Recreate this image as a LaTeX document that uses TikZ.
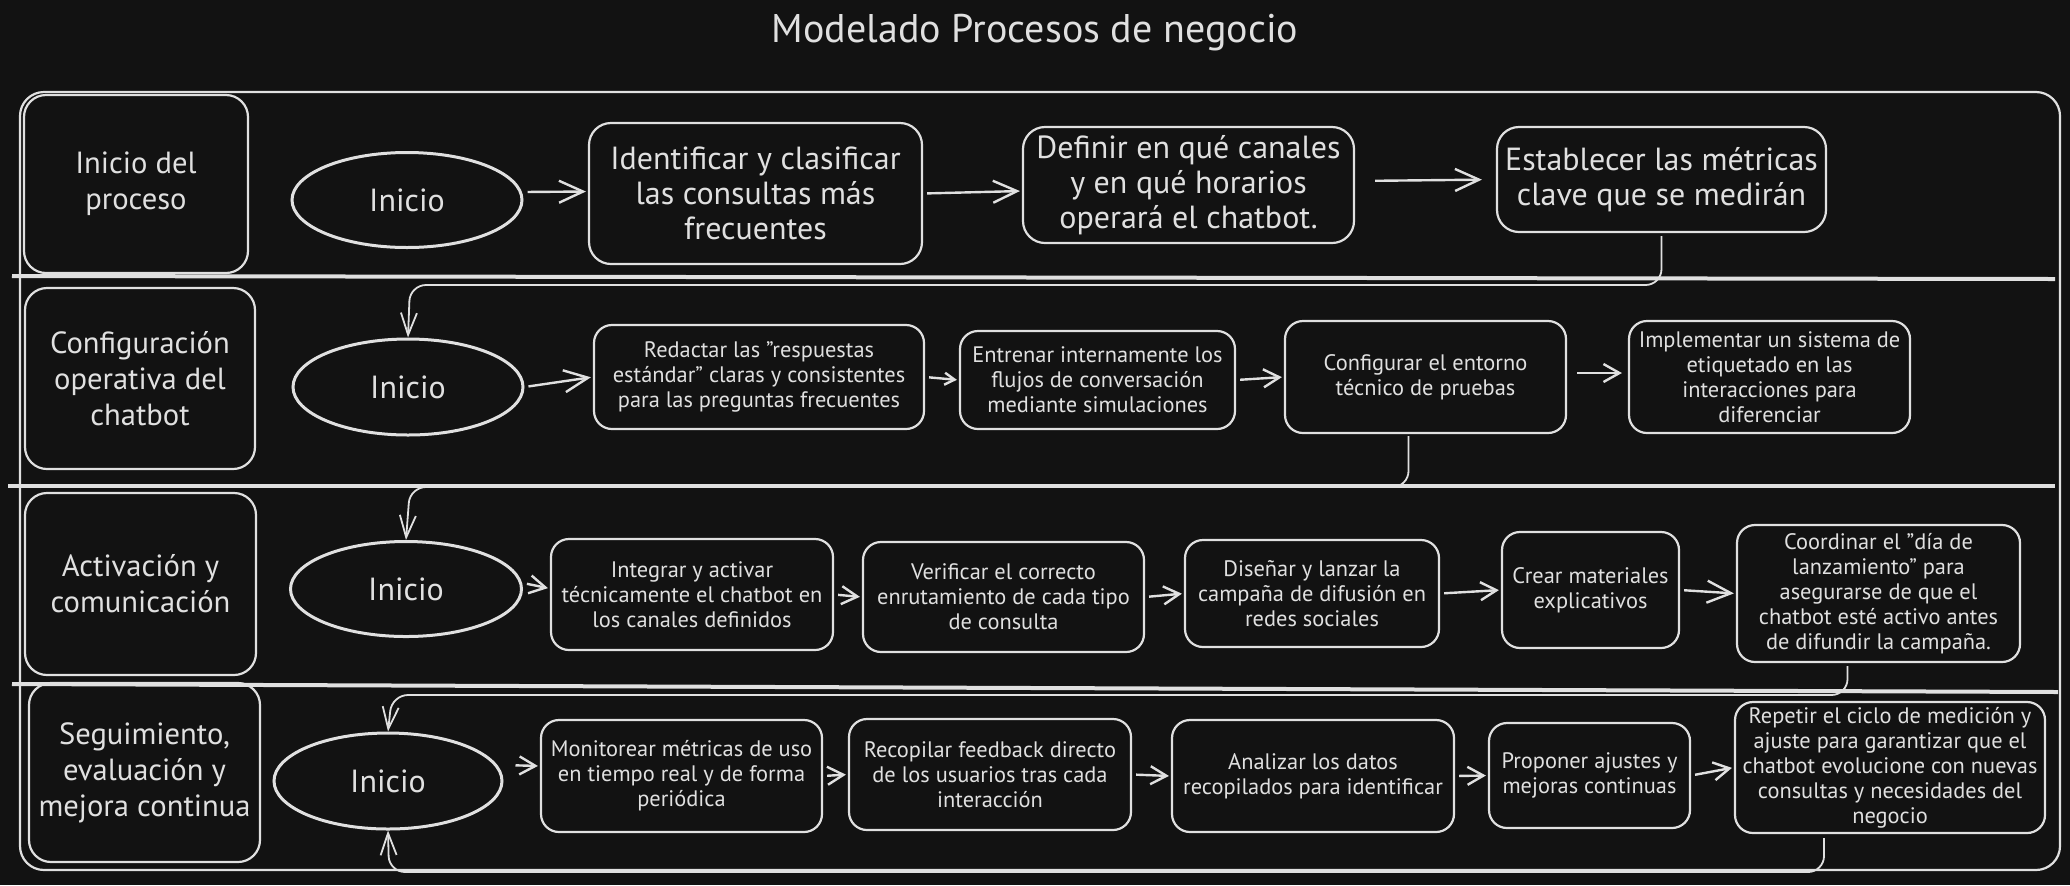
\documentclass[tikz,border=0pt]{standalone}
\usepackage{fontspec}
\setmainfont{PT Sans}
\usetikzlibrary{arrows.meta,shapes.geometric}
\definecolor{bg}{HTML}{121212}
\definecolor{ink}{HTML}{E0E0E0}
\newcommand\mkbox[7]{\node[#1, minimum width={(#5-#3)*0.5pt}, minimum height={(#6-#4)*0.5pt}] (#2) at ({(#3+#5)/2},{(#4+#6)/2}) {#7};}
\begin{document}
\begin{tikzpicture}[x=0.5pt,y=-0.5pt,
  lanebox/.style={draw=ink, text=ink, line width=1.1pt, rounded corners=11pt, align=center, inner sep=0pt, font=\fontsize{15.3}{18}\selectfont},
  stepbox/.style={draw=ink, text=ink, line width=1.1pt, rounded corners=9pt, align=center, inner sep=0pt, font=\fontsize{11.2}{12.5}\selectfont},
  bigbox/.style={stepbox, rounded corners=11pt, font=\fontsize{16}{17.5}\selectfont},
  start/.style={draw=ink, text=ink, ellipse, line width=1.5pt, inner sep=0pt, font=\fontsize{16}{17}\selectfont},
  arr/.style={draw=ink, line width=1.2pt, -{Straight Barb[length=8pt,width=9pt]}, shorten <=2pt, shorten >=1pt},
  bigarr/.style={arr, -{Straight Barb[length=12pt,width=11pt]}},
  conn/.style={draw=ink, line width=0.9pt, rounded corners=8pt, -{Straight Barb[length=11pt,width=8pt]}},
  divider/.style={draw=ink, line width=2pt},
  frame/.style={draw=ink, line width=1.1pt, rounded corners=12pt},
]
\path[use as bounding box, fill=bg] (0,0) rectangle (2070,885);
\node[text=ink, font=\fontsize{20}{24}\selectfont] (title) at (1035,33) {Modelado Procesos de negocio};
\draw[frame] (20,92) rectangle (2060,870);
\draw[divider] (12,276) -- (2055,279);
\draw[divider] (8,486) -- (2055,486);
\draw[divider] (12,684) -- (2058,692);
% lane labels
\mkbox{lanebox}{l1}{24}{95}{248}{273}{Inicio del\\proceso}
\mkbox{lanebox}{l2}{25}{288}{255}{469}{Configuración\\operativa del\\chatbot}
\mkbox{lanebox}{l3}{25}{493}{256}{675}{Activación y\\comunicación}
\mkbox{lanebox}{l4}{29}{683}{260}{862}{Seguimiento,\\evaluación y\\mejora continua}
% lane 1
\node[start, minimum width=115pt, minimum height=47.5pt] (i1) at (407,200) {Inicio};
\mkbox{bigbox}{b11}{589}{123}{922}{264}{Identificar y clasificar\\las consultas más\\frecuentes}
\mkbox{bigbox}{b12}{1023}{127}{1354}{243}{Definir en qué canales\\y en qué horarios\\operará el chatbot.}
\mkbox{bigbox}{b13}{1497}{127}{1826}{232}{Establecer las métricas\\clave que se medirán}
\draw[bigarr] ([yshift=4pt]i1.east) -- ([yshift=1pt]b11.west);
\draw[bigarr] (b11.east) -- ([yshift=-3pt]b12.west);
\draw[bigarr, shorten <=10pt, shorten >=7pt] ([yshift=2pt]b12.east) -- (b13.west);
% lane 2
\node[start, minimum width=115pt, minimum height=48pt] (i2) at (408,387) {Inicio};
\mkbox{stepbox}{b21}{594}{325}{924}{429}{Redactar las "respuestas\\estándar" claras y consistentes\\para las preguntas frecuentes}
\mkbox{stepbox}{b22}{960}{331}{1235}{429}{Entrenar internamente los\\flujos de conversación\\mediante simulaciones}
\mkbox{stepbox}{b23}{1285}{321}{1566}{433}{Configurar el entorno\\técnico de pruebas}
\mkbox{stepbox}{b24}{1629}{321}{1910}{433}{Implementar un sistema de\\etiquetado en las\\interacciones para\\diferenciar}
\draw[bigarr] (i2.east) -- (b21.west);
\draw[arr, -{Straight Barb[length=5pt,width=6pt]}] (b21.east) -- (b22.west);
\draw[arr] (b22.east) -- (b23.west);
\draw[arr, shorten <=5pt, shorten >=3pt] ([yshift=2pt]b23.east) -- ([yshift=2pt]b24.west);
% lane 3
\node[start, minimum width=115.5pt, minimum height=47.5pt] (i3) at (406,589) {Inicio};
\mkbox{stepbox}{b31}{551}{539}{833}{650}{Integrar y activar\\técnicamente el chatbot en\\los canales definidos}
\mkbox{stepbox}{b32}{863}{542}{1144}{652}{Verificar el correcto\\enrutamiento de cada tipo\\de consulta}
\mkbox{stepbox}{b33}{1185}{540}{1439}{647}{Diseñar y lanzar la\\campaña de difusión en\\redes sociales}
\mkbox{stepbox}{b34}{1502}{532}{1679}{648}{Crear materiales\\explicativos}
\mkbox{stepbox}{b35}{1737}{525}{2020}{662}{Coordinar el "día de\\lanzamiento" para\\asegurarse de que el\\chatbot esté activo antes\\de difundir la campaña.}
\draw[arr] ([yshift=3pt]i3.east) -- ([yshift=3pt]b31.west);
\draw[arr] (b31.east) -- (b32.west);
\draw[arr] (b32.east) -- (b33.west);
\draw[arr] (b33.east) -- (b34.west);
\draw[bigarr] (b34.east) -- (b35.west);
% lane 4
\node[start, minimum width=114pt, minimum height=48pt] (i4) at (388,781) {Inicio};
\mkbox{stepbox}{b41}{541}{720}{822}{832}{Monitorear métricas de uso\\en tiempo real y de forma\\periódica}
\mkbox{stepbox}{b42}{849}{719}{1131}{830}{Recopilar feedback directo\\de los usuarios tras cada\\interacción}
\mkbox{stepbox}{b43}{1172}{720}{1454}{832}{Analizar los datos\\recopilados para identificar}
\mkbox{stepbox}{b44}{1489}{723}{1690}{828}{Proponer ajustes y\\mejoras continuas}
\mkbox{stepbox}{b45}{1735}{702}{2045}{833}{Repetir el ciclo de medición y\\ajuste para garantizar que el\\chatbot evolucione con nuevas\\consultas y necesidades del\\negocio}
\draw[arr, shorten <=6pt] ([yshift=8pt]i4.east) -- ([yshift=5pt]b41.west);
\draw[arr] (b41.east) -- (b42.west);
\draw[arr] (b42.east) -- (b43.west);
\draw[arr] (b43.east) -- (b44.west);
\draw[arr] (b44.east) -- (b45.west);
% loop connectors
\coordinate (k1) at (410,285);
\coordinate (k2) at (410,487);
\coordinate (k3) at (392,695);
\coordinate (k4) at (389,872);
\draw[conn] ([yshift=-1.5pt]b13.south) |- (k1) -- (i2.north);
\draw[conn] ([xshift=-8.5pt,yshift=-1pt]b23.south) |- (k2) -- (i3.north);
\draw[conn] ([xshift=-15.5pt,yshift=-1.5pt]b35.south) |- (k3) -- (i4.north);
\draw[conn] ([xshift=-33pt,yshift=-2pt]b45.south) |- (k4) -- (i4.south);
\end{tikzpicture}
\end{document}
